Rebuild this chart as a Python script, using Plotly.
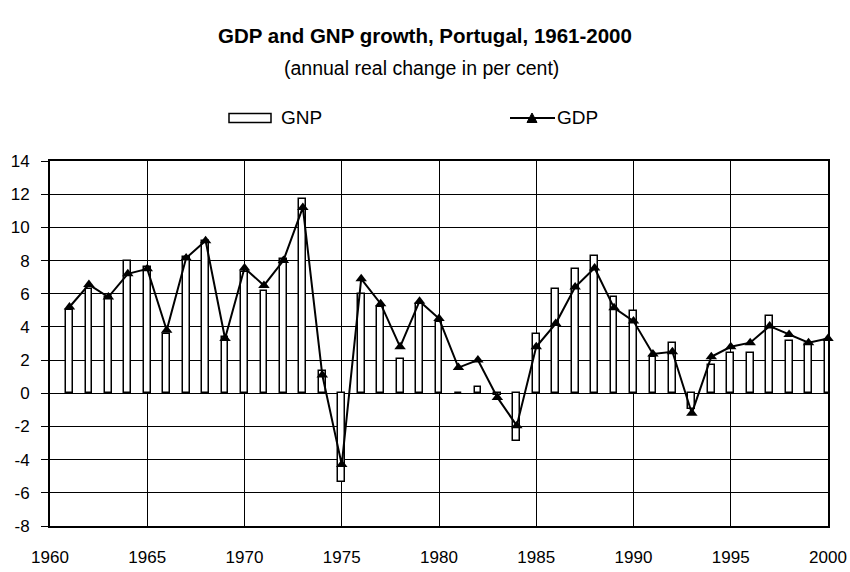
import plotly.graph_objects as go

years = list(range(1961, 2001))
gnp = [5.0, 6.3, 5.8, 8.0, 7.6, 3.6, 8.2, 9.2, 3.4, 7.3,
       6.15, 8.1, 11.7, 1.35, -5.35, 6.0, 5.2, 2.05, 5.4, 4.3,
       0.0, 0.4, -0.1, -2.85, 3.6, 6.3, 7.5, 8.3, 5.8, 4.95,
       2.2, 3.05, -0.95, 1.7, 2.4, 2.45, 4.65, 3.15, 2.95, 3.2]
gdp = [5.2, 6.55, 5.8, 7.2, 7.5, 3.8, 8.15, 9.2, 3.3, 7.55,
       6.5, 8.0, 11.2, 1.1, -4.3, 6.9, 5.4, 2.8, 5.55, 4.5,
       1.55, 2.0, -0.25, -1.95, 2.8, 4.2, 6.4, 7.55, 5.15, 4.35,
       2.37, 2.5, -1.2, 2.2, 2.8, 3.05, 4.05, 3.55, 3.05, 3.3]
x_ticks = [1960, 1965, 1970, 1975, 1980, 1985, 1990, 1995, 2000]
y_ticks = list(range(-8, 15, 2))
series_names = ["GNP", "GDP"]

title = "GDP and GNP growth, Portugal, 1961-2000"
subtitle = "(annual real change in per cent)"

W, H = 850, 572
L, R, T, B = 50, 22, 161, 46
ph = H - T - B
pw = W - L - R


def py(y):
    return (H - B - y) / ph


def px(x):
    return (x - L) / pw


FONT = "Liberation Sans, Arial, sans-serif"

fig = go.Figure()
fig.add_trace(go.Bar(
    x=years, y=gnp, name=series_names[0], width=0.35,
    marker=dict(color="white", line=dict(color="black", width=1.5)),
    cliponaxis=False, showlegend=False,
))
fig.add_trace(go.Scatter(
    x=years, y=gdp, name=series_names[1], mode="lines+markers",
    line=dict(color="black", width=2),
    marker=dict(symbol="triangle-up", size=10, color="black"),
    cliponaxis=False, showlegend=False,
))

# legend (drawn as glyphs + text above the plot)
ly = 118
shapes = [
    dict(type="rect", xref="paper", yref="paper",
         x0=px(229), x1=px(271), y0=py(113.5), y1=py(122.5),
         line=dict(color="black", width=1.5), fillcolor="white"),
    dict(type="line", xref="paper", yref="paper",
         x0=px(510), x1=px(555), y0=py(ly), y1=py(ly),
         line=dict(color="black", width=2)),
    dict(type="path", xref="paper", yref="paper",
         path="M {:.5f},{:.5f} L {:.5f},{:.5f} L {:.5f},{:.5f} Z".format(
             px(527), py(ly + 4.5), px(537), py(ly + 4.5), px(532), py(ly - 5)),
         line=dict(color="black", width=1), fillcolor="black"),
]

annotations = [
    dict(text="<b>" + title + "</b>", x=px(425), xref="paper", y=py(35), yref="paper",
         xanchor="center", yanchor="middle", showarrow=False, font=dict(size=20.5)),
    dict(text=subtitle, x=px(421), xref="paper", y=py(68), yref="paper",
         xanchor="center", yanchor="middle", showarrow=False, font=dict(size=19.5)),
    dict(text=series_names[0], x=px(279), xref="paper", y=py(ly), yref="paper",
         xanchor="left", yanchor="middle", showarrow=False, font=dict(size=19)),
    dict(text=series_names[1], x=px(555), xref="paper", y=py(ly), yref="paper",
         xanchor="left", yanchor="middle", showarrow=False, font=dict(size=19)),
]

fig.update_layout(
    width=W, height=H,
    margin=dict(l=L, r=R, t=T, b=B, autoexpand=False),
    paper_bgcolor="white", plot_bgcolor="white",
    font=dict(family=FONT, size=17, color="black"),
    showlegend=False,
    bargap=0,
    shapes=shapes,
    annotations=annotations,
)
fig.update_xaxes(
    range=[1960, 2000], tickvals=x_ticks, ticktext=[str(v) for v in x_ticks],
    showgrid=True, gridcolor="black", gridwidth=1,
    showline=True, linecolor="black", linewidth=2, mirror=True,
    ticks="", ticklabelstandoff=15, zeroline=False, automargin=False,
    tickfont=dict(size=17),
)
fig.update_yaxes(
    range=[-8, 14], tickvals=y_ticks, ticktext=[str(v) for v in y_ticks],
    showgrid=True, gridcolor="black", gridwidth=1,
    showline=True, linecolor="black", linewidth=2, mirror=True,
    ticks="outside", ticklen=7, tickcolor="black", tickwidth=1,
    ticklabelstandoff=8, automargin=False,
    zeroline=True, zerolinecolor="black", zerolinewidth=1,
    tickfont=dict(size=17),
)
fig.write_html(
    "out.html",
    config={"displayModeBar": False},
    post_script="document.body.style.margin='0';document.body.style.overflow='hidden';",
)
